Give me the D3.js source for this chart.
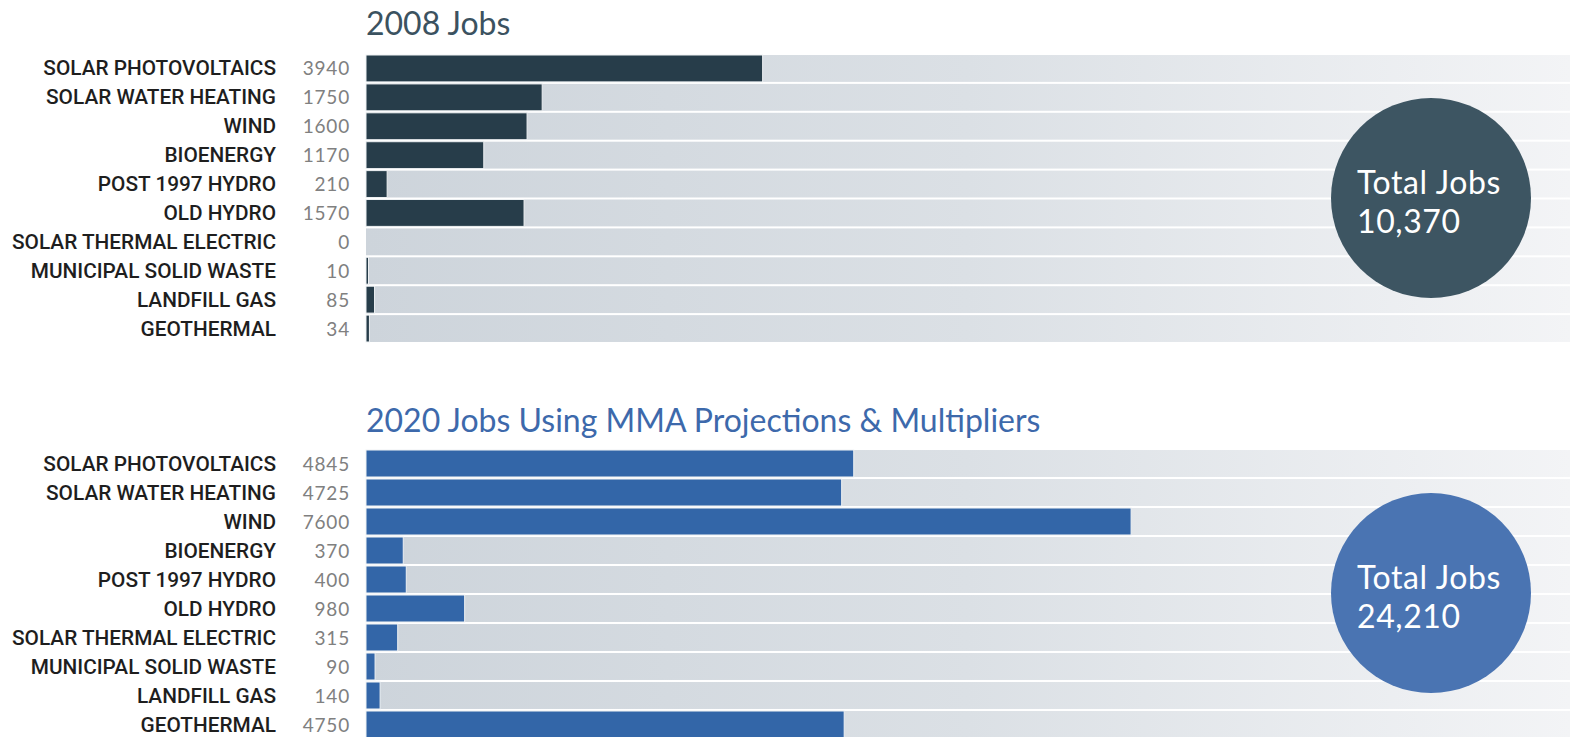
<!DOCTYPE html>
<html>
<head>
<meta charset="utf-8">
<script src="https://cdn.jsdelivr.net/npm/d3@7"></script>
<style>
  body { margin: 0; background: #fff; }
  .label { font-family: "Roboto", sans-serif; font-weight: 500; font-size: 20.8px; fill: #1e1e1e; }
  .num { font-family: "Lato", "Noto Sans", sans-serif; font-size: 19px; fill: #808080; letter-spacing: 0.8px; }
  .title { font-family: "Lato", "Noto Sans", sans-serif; font-size: 32px; }
  .total { font-family: "Lato", "Noto Sans", sans-serif; font-size: 32px; fill: #fff; letter-spacing: 0.6px; }
</style>
</head>
<body>
<div id="chart"></div>
<script>
const categories = ["SOLAR PHOTOVOLTAICS", "SOLAR WATER HEATING", "WIND", "BIOENERGY",
  "POST 1997 HYDRO", "OLD HYDRO", "SOLAR THERMAL ELECTRIC", "MUNICIPAL SOLID WASTE",
  "LANDFILL GAS", "GEOTHERMAL"];
const jobs2008 = [3940, 1750, 1600, 1170, 210, 1570, 0, 10, 85, 34];
const jobs2020 = [4845, 4725, 7600, 370, 400, 980, 315, 90, 140, 4750];
const titles = ["2008 Jobs", "2020 Jobs Using MMA Projections & Multipliers"];
const totals = ["10,370", "24,210"];

const W = 1570, H = 737;
const svg = d3.select("#chart").append("svg")
  .attr("width", W).attr("height", H);

const defs = svg.append("defs");
const grad = defs.append("linearGradient").attr("id", "bg")
  .attr("x1", "0%").attr("x2", "100%");
grad.append("stop").attr("offset", "0%").attr("stop-color", "#cdd4db");
grad.append("stop").attr("offset", "50%").attr("stop-color", "#dbe0e5");
grad.append("stop").attr("offset", "100%").attr("stop-color", "#f3f4f6");

const x = d3.scaleLinear().domain([0, 11960]).range([366, 1570]);

const panels = [
  { data: jobs2008, top: 54, bottom: 343, title: titles[0], titleY: 35, titleColor: "#3b5260",
    bar: "#273d4a", circle: "#3d5562", total: totals[0], cy: 198 },
  { data: jobs2020, top: 449, bottom: 739, title: titles[1], titleY: 432, titleColor: "#3d69ab",
    bar: "#3366a8", circle: "#4a74b2", total: totals[1], cy: 593 }
];

panels.forEach(p => {
  const y = d3.scaleBand().domain(categories).range([p.top, p.bottom]).paddingInner(0.07).paddingOuter(0.035);
  const g = svg.append("g");

  g.append("text").attr("class", "title")
    .attr("x", x(0)).attr("y", p.titleY)
    .attr("fill", p.titleColor)
    .text(p.title);

  g.selectAll(".bg").data(categories).join("rect")
    .attr("x", x(0)).attr("y", d => y(d))
    .attr("width", x.range()[1] - x(0)).attr("height", y.bandwidth())
    .attr("fill", "url(#bg)");

  g.selectAll(".bar").data(p.data).join("rect")
    .attr("x", x(0)).attr("y", (d, i) => y(categories[i]))
    .attr("width", d => d > 0 ? Math.max(2.5, x(d) - x(0)) : 0)
    .attr("height", y.bandwidth())
    .attr("fill", p.bar)
    .attr("stroke", "#eef1f3").attr("stroke-width", 1);

  g.selectAll(".label").data(categories).join("text")
    .attr("class", "label")
    .attr("x", 276).attr("y", d => y(d) + y.bandwidth() / 2 + 7)
    .attr("text-anchor", "end")
    .text(d => d);

  g.selectAll(".num").data(p.data).join("text")
    .attr("class", "num")
    .attr("x", 350).attr("y", (d, i) => y(categories[i]) + y.bandwidth() / 2 + 7)
    .attr("text-anchor", "end")
    .text(d => d);

  g.append("circle").attr("cx", 1431).attr("cy", p.cy).attr("r", 100)
    .attr("fill", p.circle);
  const t = g.append("text").attr("class", "total")
    .attr("x", 1357).attr("y", p.cy - 4);
  t.append("tspan").attr("x", 1357).text("Total Jobs");
  t.append("tspan").attr("x", 1357).attr("dy", 39).text(p.total);
});
</script>
</body>
</html>
